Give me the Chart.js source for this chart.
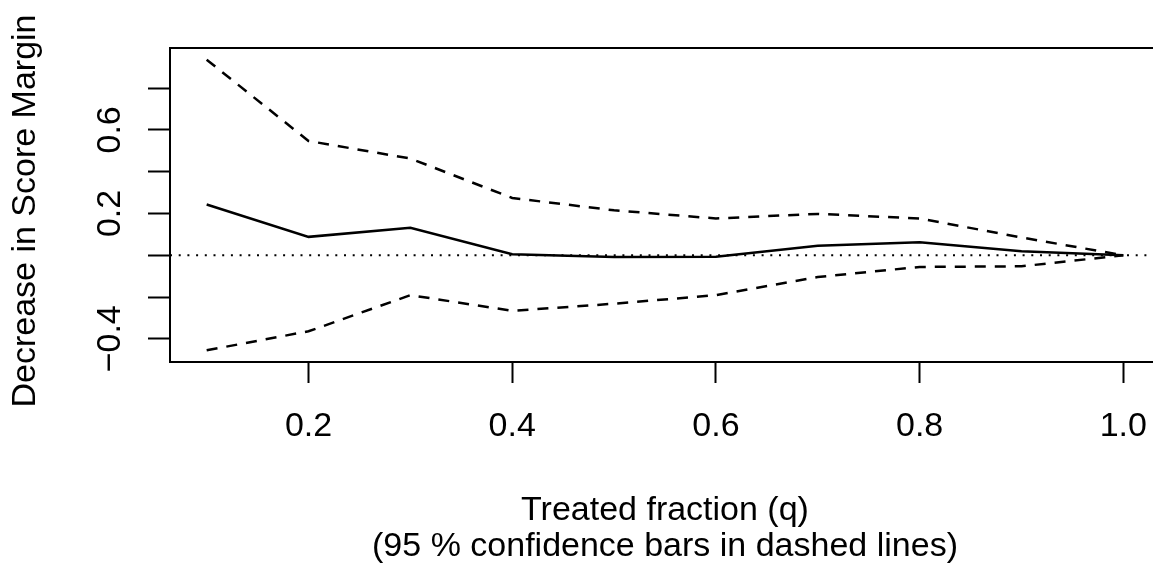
<!DOCTYPE html>
<html>
<head>
<meta charset="utf-8">
<script src="https://cdn.jsdelivr.net/npm/chart.js@4"></script>
<style>
  html, body { margin: 0; padding: 0; background: #fff; overflow: hidden; }
  #wrap { width: 1200px; height: 569px; }
</style>
</head>
<body>
<div id="wrap"><canvas id="chart" width="1200" height="569"></canvas></div>
<script>
// treated fraction and estimates
const fractions = [0.1, 0.2, 0.3, 0.4, 0.5, 0.6, 0.7, 0.8, 0.9, 1.0];
const estimate = [0.243, 0.088, 0.132, 0.005, -0.008, -0.007, 0.045, 0.062, 0.019, 0];
const upperCI = [0.936, 0.547, 0.463, 0.274, 0.215, 0.176, 0.198, 0.176, 0.085, 0];
const lowerCI = [-0.455, -0.364, -0.191, -0.266, -0.232, -0.191, -0.104, -0.056, -0.053, 0];

const xTicks = [0.2, 0.4, 0.6, 0.8, 1.0];
const yTicks = [-0.4, -0.2, 0, 0.2, 0.4, 0.6, 0.8];
const yTickLabels = [-0.4, 0.2, 0.6];
const zeroLine = 0;

const xTitle = "Treated fraction (q)";
const xSubTitle = "(95 % confidence bars in dashed lines)";
const yTitle = "Decrease in Score Margin";

const FONT = '"Liberation Sans", Arial, Helvetica, sans-serif';

function pts(ys) {
  return fractions.map((x, i) => ({ x: x, y: ys[i] }));
}

function fmt(v) {
  let s = v.toFixed(1);
  return s.replace("-", "\u2212");
}

const rPlot = {
  id: "rPlot",
  beforeDatasetsDraw(chart) {
    // dotted reference line at zero
    const ctx = chart.ctx;
    const a = chart.chartArea;
    const y0 = chart.scales.y.getPixelForValue(zeroLine);
    ctx.save();
    ctx.strokeStyle = "#000";
    ctx.lineWidth = 2;
    ctx.setLineDash([2, 6.7]);
    ctx.beginPath();
    ctx.moveTo(a.left, y0);
    ctx.lineTo(a.right, y0);
    ctx.stroke();
    ctx.restore();
  },
  afterDraw(chart) {
    const ctx = chart.ctx;
    const a = chart.chartArea;
    const ys = chart.scales.y;
    ctx.save();
    ctx.strokeStyle = "#000";
    ctx.lineWidth = 2;
    ctx.strokeRect(a.left, a.top, a.right - a.left, a.bottom - a.top);

    ctx.fillStyle = "#000";
    ctx.font = "34px " + FONT;
    ctx.textAlign = "center";
    ctx.textBaseline = "alphabetic";

    // y tick labels, parallel to the axis
    yTickLabels.forEach(v => {
      const py = ys.getPixelForValue(v);
      ctx.save();
      ctx.translate(120, py);
      ctx.rotate(-Math.PI / 2);
      ctx.fillText(fmt(v), 0, 0);
      ctx.restore();
    });

    // y title
    ctx.save();
    ctx.translate(35, 211);
    ctx.rotate(-Math.PI / 2);
    ctx.fillText(yTitle, 0, 0);
    ctx.restore();

    // x titles
    const cx = (a.left + a.right) / 2;
    ctx.fillText(xTitle, cx, 520);
    ctx.fillText(xSubTitle, cx, 556);
    ctx.restore();
  }
};

new Chart(document.getElementById("chart"), {
  type: "line",
  data: {
    datasets: [
      {
        label: "estimate",
        data: pts(estimate),
        borderColor: "#000",
        borderWidth: 2.5,
        pointRadius: 0,
        tension: 0,
        fill: false
      },
      {
        label: "upper",
        data: pts(upperCI),
        borderColor: "#000",
        borderWidth: 2.5,
        borderDash: [11, 9],
        pointRadius: 0,
        tension: 0,
        fill: false
      },
      {
        label: "lower",
        data: pts(lowerCI),
        borderColor: "#000",
        borderWidth: 2.5,
        borderDash: [11, 9],
        pointRadius: 0,
        tension: 0,
        fill: false
      }
    ]
  },
  options: {
    responsive: false,
    animation: false,
    layout: { padding: { top: 48, right: 40, left: 0, bottom: 0 } },
    plugins: { legend: { display: false }, tooltip: { enabled: false } },
    scales: {
      x: {
        type: "linear",
        min: 0.064,
        max: 1.036,
        afterBuildTicks: s => { s.ticks = xTicks.map(v => ({ value: v })); },
        afterFit: s => { s.height = 207; },
        border: { display: false },
        grid: {
          drawOnChartArea: false,
          drawTicks: true,
          tickLength: 21,
          tickColor: "#000",
          tickWidth: 2,
          color: "#000"
        },
        ticks: {
          color: "#000",
          font: { family: FONT, size: 34 },
          padding: 23,
          maxRotation: 0,
          callback: v => fmt(v)
        }
      },
      y: {
        type: "linear",
        min: -0.511,
        max: 0.992,
        afterBuildTicks: s => { s.ticks = yTicks.map(v => ({ value: v })); },
        afterFit: s => { s.width = 170; },
        border: { display: false },
        grid: {
          drawOnChartArea: false,
          drawTicks: true,
          tickLength: 22,
          tickColor: "#000",
          tickWidth: 2,
          color: "#000"
        },
        ticks: { display: false }
      }
    }
  },
  plugins: [rPlot]
});
</script>
</body>
</html>
